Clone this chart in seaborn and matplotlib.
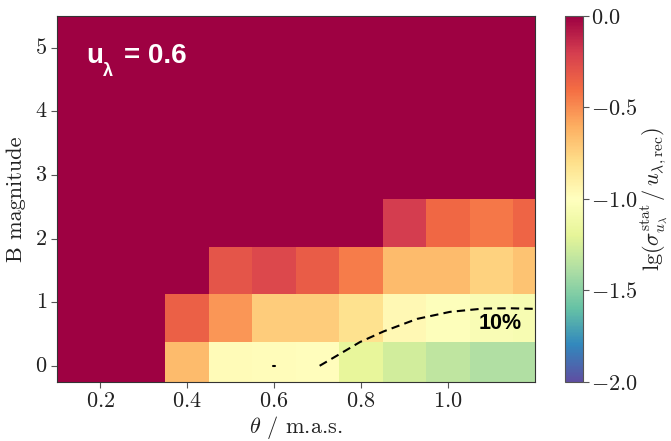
import numpy as np
import pandas as pd
import seaborn as sns
import matplotlib
matplotlib.use("Agg")
import matplotlib.pyplot as plt
from matplotlib.ticker import FixedLocator, FuncFormatter

# Grid of separations (mas) and B magnitudes
theta = [0.1, 0.2, 0.3, 0.4, 0.5, 0.6, 0.7, 0.8, 0.9, 1.0, 1.1, 1.2]
bmag = [0.0, 0.75, 1.5, 2.25, 3.0, 3.75, 4.5, 5.25]

# lg(sigma_stat / u_rec) per B magnitude row
lg_b000 = [0, 0, 0, -0.65, -0.97, -0.98, -0.99, -1.18, -1.27, -1.33, -1.38, -1.38]
lg_b075 = [0, 0, 0, -0.35, -0.53, -0.72, -0.72, -0.82, -0.96, -1.02, -1.05, -1.07]
lg_b150 = [0, 0, 0, 0, -0.30, -0.25, -0.33, -0.45, -0.65, -0.65, -0.75, -0.68]
lg_b225 = [0, 0, 0, 0, 0, 0, 0, 0, -0.20, -0.38, -0.43, -0.36]
lg_b300 = [0] * 12
lg_b375 = [0] * 12
lg_b450 = [0] * 12
lg_b525 = [0] * 12

# 10% precision contour (lg = -1)
contour_theta = [0.705, 0.75, 0.798, 0.852, 0.929, 1.005, 1.082, 1.14, 1.2]
contour_bmag = [0.0, 0.18, 0.374, 0.54, 0.737, 0.848, 0.9, 0.905, 0.895]
island_theta = [0.597, 0.603]
island_bmag = [0.0, 0.0]

x_ticks = [0.2, 0.4, 0.6, 0.8, 1.0]
y_ticks = [0, 1, 2, 3, 4, 5]
cbar_ticks = [0.0, -0.5, -1.0, -1.5, -2.0]

sns.set_theme(style="white")
plt.rcParams["mathtext.fontset"] = "cm"
plt.rcParams["axes.unicode_minus"] = False

grid = pd.DataFrame(
    [lg_b000, lg_b075, lg_b150, lg_b225, lg_b300, lg_b375, lg_b450, lg_b525],
    index=bmag, columns=theta,
)

dx = theta[1] - theta[0]
dy = bmag[1] - bmag[0]


def to_col(x):
    return (np.asarray(x, dtype=float) - theta[0]) / dx + 0.5


def to_row(y):
    return (np.asarray(y, dtype=float) - bmag[0]) / dy + 0.5


fig = plt.figure(figsize=(6.71, 4.41), dpi=100)
ax = fig.add_axes([0.0845, 0.1345, 0.7125, 0.8292])
cax = fig.add_axes([0.842, 0.1345, 0.0264, 0.8292])

cmap = sns.color_palette("Spectral_r", as_cmap=True)
sns.heatmap(grid, ax=ax, cbar_ax=cax, cmap=cmap, vmin=-2.0, vmax=0.0,
            linewidths=0, rasterized=True)

ax.set_xlim(to_col(0.1), to_col(1.2))
ax.set_ylim(to_row(-0.25), to_row(5.5))

# 10% contour
ax.plot(to_col(contour_theta), to_row(contour_bmag), color="black",
        linestyle=(0, (4, 2.5)), linewidth=1.5)
ax.plot(to_col(island_theta), to_row(island_bmag), color="black",
        linewidth=1.5)
ax.text(to_col(1.07), to_row(0.585), "10%", fontsize=15.5,
        fontfamily="Liberation Sans", fontweight="bold", color="black",
        ha="left", va="baseline")

# Limb-darkening coefficient tag
tag = dict(transform=ax.transAxes, fontfamily="Liberation Sans",
           fontweight="bold", color="white", ha="left", va="baseline")
ax.text(0.061, 0.872, "u", fontsize=20, **tag)
ax.text(0.097, 0.836, "λ", fontsize=13, **tag)
ax.text(0.1407, 0.872, "= 0.6", fontsize=20, **tag)

ax.xaxis.set_major_locator(FixedLocator(to_col(x_ticks)))
ax.yaxis.set_major_locator(FixedLocator(to_row(y_ticks)))
ax.xaxis.set_major_formatter(FuncFormatter(lambda v, p: f"${x_ticks[p]:.1f}$"))
ax.yaxis.set_major_formatter(FuncFormatter(lambda v, p: f"${y_ticks[p]:d}$"))
ax.tick_params(axis="both", which="major", labelsize=16, length=4, width=0.8,
               color="#555555", direction="out", bottom=True, left=True,
               labelcolor="#222222", pad=3)
for lbl in ax.get_yticklabels():
    lbl.set_rotation(0)
for lbl in ax.get_xticklabels():
    lbl.set_rotation(0)

for s in ax.spines.values():
    s.set_visible(True)
    s.set_color("#333333")
    s.set_linewidth(0.8)

ax.set_xlabel(r"$\theta$ / m.a.s.", fontsize=16, fontfamily="cmr10",
              color="#222222", labelpad=2)
ax.set_ylabel("B magnitude", fontsize=16, fontfamily="cmr10",
              color="#222222", labelpad=6)

cbar = ax.collections[0].colorbar
cbar.set_ticks(cbar_ticks)
cbar.set_ticklabels([f"${t:.1f}$" for t in cbar_ticks])
cbar.ax.tick_params(labelsize=16, length=4, width=0.8, color="#555555",
                    labelcolor="#222222", right=True, pad=2)
cbar.outline.set_visible(True)
cbar.outline.set_linewidth(0.8)
cbar.outline.set_edgecolor("#555555")
cbar.set_label(r"$\mathrm{lg}(\sigma^{\mathrm{stat}}_{u_\lambda}\,/\,u_{\lambda,\mathrm{rec}})$",
               fontsize=16, color="#222222", labelpad=1)

fig.savefig("out.png", dpi=100)
